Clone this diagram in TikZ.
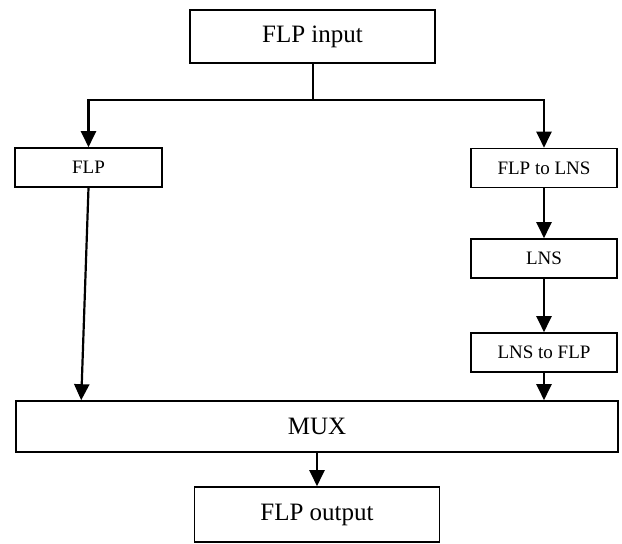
\documentclass[tikz,border=0pt]{standalone}
\usepackage{fontspec}
\setmainfont{Liberation Serif}
\usetikzlibrary{arrows.meta,calc}
\begin{document}
\begin{tikzpicture}[x=1pt,y=-1pt,
  box/.style={draw,line width=1.6pt,rectangle,inner sep=0pt,text=black},
  bigbox/.style={box,font=\fontsize{25}{28}\selectfont},
  smallbox/.style={box,font=\fontsize{19}{22}\selectfont,minimum width=146pt,minimum height=39pt},
  flow/.style={line width=2.2pt,-{Triangle[width=15pt,length=16pt]}},
  plain/.style={line width=2pt}]
\useasboundingbox (0,0) rectangle (622,544);
% input and output blocks
\node[bigbox,minimum width=245pt,minimum height=53pt] (in) at (312.5,36.5) {FLP input};
\node[bigbox,minimum width=602pt,minimum height=51pt] (mux) at (317,426.5) {MUX};
\node[bigbox,minimum width=245pt,minimum height=55pt] (out) at (317,514.5) {FLP output};
% left path
\node[smallbox,minimum width=147pt] (flp) at (88.5,167.5) {FLP};
% right path
\node[smallbox] (f2l) at (544,168) {FLP to LNS};
\node[smallbox] (lns) at (544,258.5) {LNS};
\node[smallbox] (l2f) at (544,352.5) {LNS to FLP};
% split of the input
\coordinate (split) at ($(in.south)+(0,36)$);
\draw[plain] (in.south) -- (split);
\draw[flow] (split) -| (flp.north);
\draw[flow] (split) -| (f2l.north);
% chains into the multiplexer
\draw[flow] (f2l.south) -- (lns.north);
\draw[flow] (lns.south) -- (l2f.north);
\draw[flow] (l2f.south) -- (l2f.south |- mux.north);
\draw[flow] (flp.south) -- ($(mux.north west)+(66,0)$);
\draw[flow] (mux.south) -- (out.north);
\end{tikzpicture}
\end{document}
